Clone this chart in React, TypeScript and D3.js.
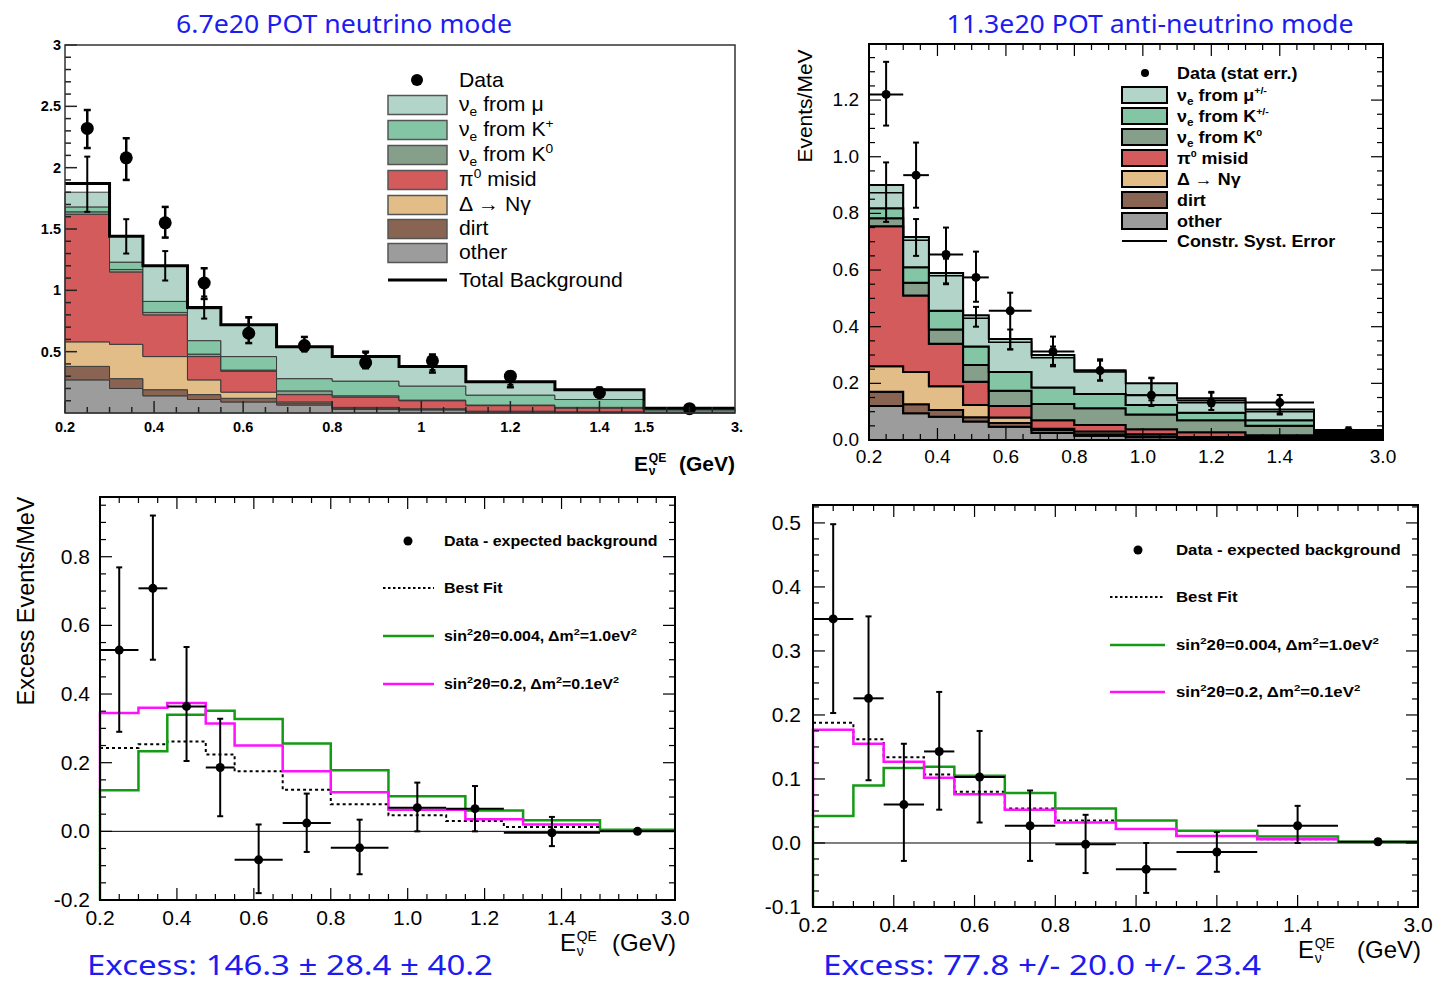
import React from "react";
import * as d3 from "d3";

// ---------------- shared binning ----------------
const EDGES = [0.2, 0.3, 0.375, 0.475, 0.55, 0.675, 0.8, 0.95, 1.1, 1.3, 1.5, 3.0];
const CENTERS = [0.25, 0.3375, 0.425, 0.5125, 0.6125, 0.7375, 0.875, 1.025, 1.2, 1.4, 2.25];
const X_BREAKS = [0.2, 1.5, 3.0];

const LAYER_KEYS = ["other", "dirt", "delta", "pi0", "k0", "kplus", "mu"];
const LAYER_COLORS: Record<string, string> = {
  mu: "#b3d4c8",
  kplus: "#84c5a5",
  k0: "#859f8b",
  pi0: "#d45b5b",
  delta: "#e2bd88",
  dirt: "#8a6452",
  other: "#9c9c9c",
};

// ---------------- top-left: neutrino mode ----------------
const nuOther = [0.27, 0.2, 0.14, 0.11, 0.09, 0.065, 0.03, 0.025, 0.01, 0.005, 0.002];
const nuDirt = [0.11, 0.08, 0.05, 0.04, 0.03, 0.015, 0.01, 0.005, 0.003, 0.003, 0.001];
const nuDelta = [0.2, 0.28, 0.27, 0.12, 0.05, 0.01, 0.006, 0.005, 0.002, 0.002, 0.001];
const nuPi0 = [1.04, 0.59, 0.34, 0.19, 0.17, 0.06, 0.084, 0.065, 0.045, 0.03, 0.002];
const nuK0 = [0.02, 0.02, 0.02, 0.02, 0.01, 0.03, 0.01, 0.005, 0.005, 0.006, 0.002];
const nuKplus = [0.04, 0.06, 0.09, 0.11, 0.11, 0.1, 0.12, 0.115, 0.081, 0.064, 0.017];
const nuMu = [0.12, 0.21, 0.29, 0.26, 0.26, 0.26, 0.2, 0.16, 0.109, 0.08, 0.013];
const nuTotal = [1.87, 1.44, 1.2, 0.86, 0.72, 0.54, 0.46, 0.38, 0.255, 0.19, 0.038];
const nuSysLo = [1.64, 1.3, 1.08, 0.77, 0.66, 0.5, 0.43, 0.35, 0.23, 0.17, 0.03];
const nuSysHi = [2.09, 1.58, 1.32, 0.95, 0.78, 0.58, 0.49, 0.41, 0.28, 0.21, 0.045];
const nuData = [2.32, 2.08, 1.55, 1.06, 0.65, 0.55, 0.41, 0.425, 0.3, 0.165, 0.035];
const nuDataLo = [2.16, 1.9, 1.43, 0.93, 0.57, 0.51, 0.365, 0.33, 0.21, 0.145, 0.025];
const nuDataHi = [2.47, 2.24, 1.68, 1.18, 0.78, 0.62, 0.5, 0.477, 0.335, 0.19, 0.045];

// ---------------- top-right: anti-neutrino mode ----------------
const anOther = [0.12, 0.094, 0.082, 0.065, 0.047, 0.025, 0.015, 0.01, 0.005, 0.004, 0.005];
const anDirt = [0.05, 0.032, 0.024, 0.015, 0.013, 0.01, 0.005, 0.002, 0.002, 0.002, 0.005];
const anDelta = [0.09, 0.114, 0.084, 0.044, 0.019, 0.005, 0.01, 0.008, 0.004, 0.004, 0.005];
const anPi0 = [0.495, 0.27, 0.15, 0.082, 0.041, 0.03, 0.023, 0.018, 0.016, 0.007, 0.005];
const anK0 = [0.028, 0.045, 0.05, 0.059, 0.054, 0.057, 0.059, 0.052, 0.043, 0.033, 0.005];
const anKplus = [0.035, 0.055, 0.066, 0.065, 0.066, 0.058, 0.05, 0.034, 0.026, 0.02, 0.005];
const anMu = [0.082, 0.107, 0.134, 0.11, 0.117, 0.115, 0.083, 0.076, 0.051, 0.038, 0.005];
const anSysLine = [0.873, 0.705, 0.58, 0.43, 0.345, 0.29, 0.24, 0.159, 0.14, 0.1, 0.03];
const anSysLo = [0.77, 0.65, 0.55, 0.4, 0.32, 0.26, 0.21, 0.14, 0.12, 0.09, 0.025];
const anSysHi = [0.98, 0.78, 0.64, 0.47, 0.39, 0.33, 0.28, 0.22, 0.17, 0.13, 0.045];
const anData = [1.22, 0.935, 0.655, 0.574, 0.456, 0.312, 0.245, 0.158, 0.132, 0.132, 0.03];
const anDataLo = [1.11, 0.82, 0.553, 0.488, 0.32, 0.265, 0.21, 0.12, 0.106, 0.094, 0.02];
const anDataHi = [1.335, 1.05, 0.75, 0.665, 0.52, 0.365, 0.285, 0.218, 0.167, 0.159, 0.04];

// ---------------- bottom-left: neutrino excess ----------------
const BL_DATA_EDGES = [0.2, 0.3, 0.375, 0.475, 0.55, 0.675, 0.8, 0.95, 1.1, 1.25, 1.5, 3.0];
const BL_OSC_EDGES = [0.2, 0.3, 0.375, 0.475, 0.55, 0.675, 0.8, 0.95, 1.15, 1.3, 1.5, 3.0];
const BL_CENTERS = [0.25, 0.3375, 0.425, 0.5125, 0.6125, 0.7375, 0.875, 1.025, 1.175, 1.375, 2.25];
const blExcess = [0.528, 0.708, 0.364, 0.186, -0.083, 0.024, -0.048, 0.069, 0.066, -0.004, 0.0];
const blExcessLo = [0.29, 0.5, 0.205, 0.044, -0.18, -0.06, -0.125, 0.0, 0.0, -0.043, -0.005];
const blExcessHi = [0.769, 0.92, 0.537, 0.328, 0.02, 0.11, 0.034, 0.142, 0.132, 0.042, 0.005];
const blBestFit = [0.243, 0.254, 0.262, 0.224, 0.175, 0.121, 0.079, 0.047, 0.03, 0.013];
const blGreen = [0.12, 0.233, 0.34, 0.351, 0.327, 0.256, 0.178, 0.102, 0.061, 0.032, 0.005];
const blMagenta = [0.345, 0.36, 0.374, 0.314, 0.25, 0.175, 0.114, 0.063, 0.035, 0.02];

// ---------------- bottom-right: anti-neutrino excess ----------------
const brExcess = [0.35, 0.226, 0.06, 0.143, 0.103, 0.027, -0.002, -0.041, -0.014, 0.027, 0.002];
const brExcessLo = [0.203, 0.098, -0.028, 0.052, 0.032, -0.028, -0.047, -0.078, -0.045, 0.0, -0.002];
const brExcessHi = [0.498, 0.354, 0.155, 0.236, 0.175, 0.082, 0.044, 0.0, 0.017, 0.058, 0.006];
const brBestFit = [0.188, 0.162, 0.134, 0.107, 0.08, 0.054, 0.035, 0.022, 0.011, 0.006];
const brGreen = [0.042, 0.09, 0.117, 0.119, 0.105, 0.078, 0.054, 0.035, 0.019, 0.01, 0.002];
const brMagenta = [0.177, 0.155, 0.127, 0.102, 0.076, 0.052, 0.032, 0.022, 0.011, 0.006];

// ---------------- ticks ----------------
const X_MAJOR = [0.2, 0.4, 0.6, 0.8, 1.0, 1.2, 1.4];
const X_MINOR = [
  0.25, 0.3, 0.35, 0.45, 0.5, 0.55, 0.65, 0.7, 0.75, 0.85, 0.9, 0.95, 1.05, 1.1, 1.15, 1.25, 1.3,
  1.35, 1.45, 1.5, 1.875, 2.25, 2.625,
];
const TL_X_LABELS = ["0.2", "0.4", "0.6", "0.8", "1", "1.2", "1.4", "1.5", "3."];
const TL_X_LABEL_VALUES = [0.2, 0.4, 0.6, 0.8, 1.0, 1.2, 1.4, 1.5, 3.0];
const X_LABELS = ["0.2", "0.4", "0.6", "0.8", "1.0", "1.2", "1.4", "3.0"];
const X_LABEL_VALUES = [0.2, 0.4, 0.6, 0.8, 1.0, 1.2, 1.4, 3.0];
const TL_Y_LABELS = ["0.5", "1", "1.5", "2", "2.5", "3"];
const TL_Y_VALUES = [0.5, 1, 1.5, 2, 2.5, 3];
const TR_Y_LABELS = ["0.0", "0.2", "0.4", "0.6", "0.8", "1.0", "1.2"];
const TR_Y_VALUES = [0, 0.2, 0.4, 0.6, 0.8, 1.0, 1.2];
const BL_Y_LABELS = ["-0.2", "0.0", "0.2", "0.4", "0.6", "0.8"];
const BL_Y_VALUES = [-0.2, 0, 0.2, 0.4, 0.6, 0.8];
const BR_Y_LABELS = ["-0.1", "0.0", "0.1", "0.2", "0.3", "0.4", "0.5"];
const BR_Y_VALUES = [-0.1, 0, 0.1, 0.2, 0.3, 0.4, 0.5];

const FONT = "'Liberation Sans', Arial, Helvetica, sans-serif";
const BLUE_FONT = "'Noto Sans', 'Open Sans', sans-serif";
const BLUE = "#1c1cf2";
const GREEN = "#149a14";
const MAGENTA = "#ff10ff";

type Scale = d3.ScaleLinear<number, number>;

function stepPath(x: Scale, y: Scale, edges: number[], vals: number[], startFrom?: number) {
  const pts: [number, number][] = [];
  if (startFrom !== undefined) pts.push([edges[0], startFrom]);
  vals.forEach((v, i) => pts.push([edges[i], v]));
  pts.push([edges[vals.length], vals[vals.length - 1]]);
  return (
    d3
      .line<[number, number]>()
      .x((d) => x(d[0]))
      .y((d) => y(d[1]))
      .curve(d3.curveStepAfter)(pts) || ""
  );
}

function stepArea(x: Scale, y: Scale, edges: number[], lo: number[], hi: number[]) {
  const pts = lo.map((l, i) => ({ e: edges[i], l, h: hi[i] }));
  pts.push({ e: edges[lo.length], l: lo[lo.length - 1], h: hi[hi.length - 1] });
  return (
    d3
      .area<{ e: number; l: number; h: number }>()
      .x((d) => x(d.e))
      .y0((d) => y(d.l))
      .y1((d) => y(d.h))
      .curve(d3.curveStepAfter)(pts) || ""
  );
}

function Stack({
  x,
  y,
  layers,
  stroke,
  sw,
}: {
  x: Scale;
  y: Scale;
  layers: Record<string, number[]>;
  stroke: string;
  sw: number;
}) {
  const rows = EDGES.slice(0, -1).map((_, i) => {
    const r: Record<string, number> = {};
    LAYER_KEYS.forEach((k) => (r[k] = layers[k][i]));
    return r;
  });
  const series = d3.stack<Record<string, number>>().keys(LAYER_KEYS)(rows);
  return (
    <g>
      {series.map((s) => (
        <path
          key={s.key}
          d={stepArea(
            x,
            y,
            EDGES,
            s.map((d) => d[0]),
            s.map((d) => d[1])
          )}
          fill={LAYER_COLORS[s.key]}
          stroke={stroke}
          strokeWidth={sw}
          strokeLinejoin="miter"
        />
      ))}
    </g>
  );
}

function Ticks({
  x,
  y,
  xMajor,
  xMinor,
  yMajor,
  yMinor,
  sides,
  maj,
  min,
  color,
  sw,
}: {
  x: Scale;
  y: Scale;
  xMajor: number[];
  xMinor: number[];
  yMajor: number[];
  yMinor: number[];
  sides: { left: boolean; right: boolean; top: boolean; bottom: boolean };
  maj: number;
  min: number;
  color: string;
  sw: number;
}) {
  const xr = x.range();
  const x0 = xr[0];
  const x1 = xr[xr.length - 1];
  const [yb, yt] = y.range();
  const out: JSX.Element[] = [];
  const add = (k: string, a: number, b: number, c: number, d: number) =>
    out.push(<line key={k} x1={a} y1={b} x2={c} y2={d} stroke={color} strokeWidth={sw} />);
  const xs: [number, number][] = [
    ...xMajor.map((v) => [v, maj] as [number, number]),
    ...xMinor.map((v) => [v, min] as [number, number]),
  ];
  const ys: [number, number][] = [
    ...yMajor.map((v) => [v, maj] as [number, number]),
    ...yMinor.map((v) => [v, min] as [number, number]),
  ];
  xs.forEach(([v, l], i) => {
    const px = x(v);
    if (sides.bottom) add("xb" + i, px, yb, px, yb - l);
    if (sides.top) add("xt" + i, px, yt, px, yt + l);
  });
  ys.forEach(([v, l], i) => {
    const py = y(v);
    if (py < yt - 0.5 || py > yb + 0.5) return;
    if (sides.left) add("yl" + i, x0, py, x0 + l, py);
    if (sides.right) add("yr" + i, x1, py, x1 - l, py);
  });
  return <g>{out}</g>;
}

function range(a: number, b: number, step: number, skip: number[]) {
  const out: number[] = [];
  for (let v = a; v <= b + 1e-9; v += step) {
    const r = Math.round(v * 1000) / 1000;
    if (!skip.some((s) => Math.abs(s - r) < 1e-6)) out.push(r);
  }
  return out;
}

function Points({
  x,
  y,
  cx,
  v,
  lo,
  hi,
  edges,
  r,
  sw,
  cap,
}: {
  x: Scale;
  y: Scale;
  cx: number[];
  v: number[];
  lo: number[];
  hi: number[];
  edges?: number[];
  r: number;
  sw: number;
  cap: number;
}) {
  return (
    <g>
      {v.map((val, i) => {
        const px = x(cx[i]);
        const py = y(val);
        const yl = y(lo[i]);
        const yh = y(hi[i]);
        return (
          <g key={i}>
            <line x1={px} y1={yl} x2={px} y2={yh} stroke="#000" strokeWidth={sw} />
            <line x1={px - cap} y1={yl} x2={px + cap} y2={yl} stroke="#000" strokeWidth={sw} />
            <line x1={px - cap} y1={yh} x2={px + cap} y2={yh} stroke="#000" strokeWidth={sw} />
            {edges && (
              <line x1={x(edges[i])} y1={py} x2={x(edges[i + 1])} y2={py} stroke="#000" strokeWidth={sw} />
            )}
            <circle cx={px} cy={py} r={r} fill="#000" />
          </g>
        );
      })}
    </g>
  );
}

function SysBars({ x, y, cx, lo, hi, sw, cap }: { x: Scale; y: Scale; cx: number[]; lo: number[]; hi: number[]; sw: number; cap: number }) {
  return (
    <g>
      {lo.map((l, i) => {
        const px = x(cx[i]);
        return (
          <g key={i}>
            <line x1={px} y1={y(l)} x2={px} y2={y(hi[i])} stroke="#000" strokeWidth={sw} />
            <line x1={px - cap} y1={y(l)} x2={px + cap} y2={y(l)} stroke="#000" strokeWidth={sw} />
            <line x1={px - cap} y1={y(hi[i])} x2={px + cap} y2={y(hi[i])} stroke="#000" strokeWidth={sw} />
          </g>
        );
      })}
    </g>
  );
}

// horizontally stretched text (the reference glyphs are wider than Liberation Sans)
function SText({
  x,
  y,
  sx,
  size,
  bold,
  children,
}: {
  x: number;
  y: number;
  sx: number;
  size: number;
  bold?: boolean;
  children: React.ReactNode;
}) {
  return (
    <text
      transform={`translate(${x},${y}) scale(${sx},1)`}
      fontFamily={FONT}
      fontWeight={bold ? "bold" : "normal"}
      fontSize={size}
    >
      {children}
    </text>
  );
}

function SinLabel({ x, y, s2, dm, sx }: { x: number; y: number; s2: string; dm: string; sx: number }) {
  return (
    <SText x={x} y={y} sx={sx} size={14} bold>
      sin
      <tspan dy={-6} fontSize={9.5}>
        2
      </tspan>
      <tspan dy={6}>{"2θ=" + s2 + ", Δm"}</tspan>
      <tspan dy={-6} fontSize={9.5}>
        2
      </tspan>
      <tspan dy={6}>{"=" + dm + "eV"}</tspan>
      <tspan dy={-6} fontSize={9.5}>
        2
      </tspan>
    </SText>
  );
}

function EnuTitle({
  xE,
  xEnd,
  y,
  size,
  bold,
}: {
  xE: number;
  xEnd: number;
  y: number;
  size: number;
  bold: boolean;
}) {
  const fw = bold ? "bold" : "normal";
  const sub = size * 0.58;
  const xs = xE + size * 0.7;
  return (
    <g fontFamily={FONT} fontWeight={fw}>
      <text x={xE} y={y} fontSize={size}>
        E
      </text>
      <text x={xs} y={y - size * 0.42} fontSize={sub}>
        QE
      </text>
      <text x={xs} y={y + size * 0.2} fontSize={sub}>
        ν
      </text>
      <text x={xEnd} y={y} fontSize={size} textAnchor="end">
        (GeV)
      </text>
    </g>
  );
}

function ExcessLegend({
  x0,
  x1,
  dotX,
  yRow,
  textX,
  sx,
}: {
  x0: number;
  x1: number;
  dotX: number;
  yRow: number[];
  textX: number;
  sx: number;
}) {
  return (
    <g>
      <circle cx={dotX} cy={yRow[0]} r={4.5} fill="#000" />
      <SText x={textX} y={yRow[0] + 5} sx={sx} size={14} bold>
        Data - expected background
      </SText>
      <line x1={x0} y1={yRow[1]} x2={x1} y2={yRow[1]} stroke="#000" strokeWidth={2} strokeDasharray="2.5 2.5" />
      <SText x={textX} y={yRow[1] + 5} sx={sx} size={14} bold>
        Best Fit
      </SText>
      <line x1={x0} y1={yRow[2]} x2={x1} y2={yRow[2]} stroke={GREEN} strokeWidth={2.5} />
      <SinLabel x={textX} y={yRow[2] + 5} s2="0.004" dm="1.0" sx={sx} />
      <line x1={x0} y1={yRow[3]} x2={x1} y2={yRow[3]} stroke={MAGENTA} strokeWidth={2.5} />
      <SinLabel x={textX} y={yRow[3] + 5} s2="0.2" dm="0.1" sx={sx} />
    </g>
  );
}

export default function App() {
  // scales
  const xTL = d3.scaleLinear().domain(X_BREAKS).range([65, 644, 735]);
  const yTL = d3.scaleLinear().domain([0, 3]).range([413, 45]);
  const xTR = d3.scaleLinear().domain(X_BREAKS).range([869, 1314, 1383]);
  const yTR = d3.scaleLinear().domain([0, 1.398]).range([440, 44]);
  const xBL = d3.scaleLinear().domain(X_BREAKS).range([100, 600, 675]);
  const yBL = d3.scaleLinear().domain([-0.2, 0.974]).range([900, 497]);
  const xBR = d3.scaleLinear().domain(X_BREAKS).range([813, 1338, 1418]);
  const yBR = d3.scaleLinear().domain([-0.1, 0.528]).range([907, 505]);

  const nuLayers = { other: nuOther, dirt: nuDirt, delta: nuDelta, pi0: nuPi0, k0: nuK0, kplus: nuKplus, mu: nuMu };
  const anLayers = { other: anOther, dirt: anDirt, delta: anDelta, pi0: anPi0, k0: anK0, kplus: anKplus, mu: anMu };

  const tlLegend = [
    { key: "mu", label: <>ν<tspan dy={5} fontSize={13}>e</tspan><tspan dy={-5}> from μ</tspan></> },
    { key: "kplus", label: <>ν<tspan dy={5} fontSize={13}>e</tspan><tspan dy={-5}> from K</tspan><tspan dy={-8} fontSize={13}>+</tspan></> },
    { key: "k0", label: <>ν<tspan dy={5} fontSize={13}>e</tspan><tspan dy={-5}> from K</tspan><tspan dy={-8} fontSize={13}>0</tspan></> },
    { key: "pi0", label: <>π<tspan dy={-8} fontSize={13}>0</tspan><tspan dy={8}> misid</tspan></> },
    { key: "delta", label: <>Δ → Nγ</> },
    { key: "dirt", label: <>dirt</> },
    { key: "other", label: <>other</> },
  ];
  const tlRows = [105, 130, 155, 180, 205, 229, 253];

  const trLegend = [
    { key: "mu", label: <>ν<tspan dy={4} fontSize={10.5}>e</tspan><tspan dy={-4}> from μ</tspan><tspan dy={-7} fontSize={9.5}>+/-</tspan></> },
    { key: "kplus", label: <>ν<tspan dy={4} fontSize={10.5}>e</tspan><tspan dy={-4}> from K</tspan><tspan dy={-7} fontSize={9.5}>+/-</tspan></> },
    { key: "k0", label: <>ν<tspan dy={4} fontSize={10.5}>e</tspan><tspan dy={-4}> from K</tspan><tspan dy={-7} fontSize={9.5}>0</tspan></> },
    { key: "pi0", label: <>π<tspan dy={-7} fontSize={9.5}>0</tspan><tspan dy={7}> misid</tspan></> },
    { key: "delta", label: <>Δ → Nγ</> },
    { key: "dirt", label: <>dirt</> },
    { key: "other", label: <>other</> },
  ];
  const trRows = [95, 116, 137, 158, 179, 200, 221];

  const allSides = { left: true, right: true, top: true, bottom: true };

  return (
    <svg
      width={1438}
      height={982}
      viewBox="0 0 1438 982"
      style={{ position: "absolute", left: 0, top: 0, background: "#fff" }}
    >
      <rect x={0} y={0} width={1438} height={982} fill="#fff" />

      {/* ---------- titles ---------- */}
      <text x={344} y={33} textAnchor="middle" fontFamily={BLUE_FONT} fontSize={25} fill={BLUE} textLength={336} lengthAdjust="spacingAndGlyphs">
        6.7e20 POT neutrino mode
      </text>
      <text x={1150} y={33} textAnchor="middle" fontFamily={BLUE_FONT} fontSize={25} fill={BLUE} textLength={407} lengthAdjust="spacingAndGlyphs">
        11.3e20 POT anti-neutrino mode
      </text>

      {/* ---------- top-left panel ---------- */}
      <g>
        <Stack x={xTL} y={yTL} layers={nuLayers} stroke="#3a3a3a" sw={1} />
        <path d={stepPath(xTL, yTL, EDGES, nuTotal)} fill="none" stroke="#000" strokeWidth={3} />
        <SysBars x={xTL} y={yTL} cx={CENTERS} lo={nuSysLo} hi={nuSysHi} sw={2} cap={3} />
        <Points x={xTL} y={yTL} cx={CENTERS} v={nuData} lo={nuDataLo} hi={nuDataHi} r={6.5} sw={2.5} cap={3.5} />
        <Ticks
          x={xTL}
          y={yTL}
          xMajor={[...X_MAJOR, 1.5]}
          xMinor={X_MINOR.filter((v) => v !== 1.5)}
          yMajor={TL_Y_VALUES}
          yMinor={range(0.1, 3, 0.1, TL_Y_VALUES)}
          sides={{ left: true, right: false, top: false, bottom: true }}
          maj={12}
          min={6}
          color="#222"
          sw={1.5}
        />
        <rect x={65} y={45} width={670} height={368} fill="none" stroke="#333" strokeWidth={1.5} />
        {TL_Y_LABELS.map((t, i) => (
          <text key={t} x={61} y={yTL(TL_Y_VALUES[i]) + 5} textAnchor="end" fontFamily={FONT} fontWeight="bold" fontSize={14.5}>
            {t}
          </text>
        ))}
        {TL_X_LABELS.map((t, i) => (
          <text key={t} x={xTL(TL_X_LABEL_VALUES[i]) + (i === TL_X_LABELS.length - 1 ? 2 : 0)} y={432} textAnchor="middle" fontFamily={FONT} fontWeight="bold" fontSize={14.5}>
            {t}
          </text>
        ))}
        <EnuTitle xE={634} xEnd={735} y={471} size={21} bold={true} />

        {/* legend */}
        <circle cx={417} cy={80} r={6} fill="#000" />
        <SText x={459} y={87} sx={1.06} size={20}>
          Data
        </SText>
        {tlLegend.map((l, i) => (
          <g key={l.key}>
            <rect x={388} y={tlRows[i] - 9.5} width={59} height={19} fill={LAYER_COLORS[l.key]} stroke="#555" strokeWidth={1.5} />
            <SText x={459} y={tlRows[i] + 6} sx={1.06} size={20}>
              {l.label}
            </SText>
          </g>
        ))}
        <line x1={388} y1={280} x2={447} y2={280} stroke="#000" strokeWidth={3} />
        <SText x={459} y={287} sx={1.06} size={20}>
          Total Background
        </SText>
      </g>

      {/* ---------- top-right panel ---------- */}
      <g>
        <Stack x={xTR} y={yTR} layers={anLayers} stroke="#000" sw={2} />
        <path d={stepPath(xTR, yTR, EDGES, anSysLine)} fill="none" stroke="#000" strokeWidth={1.5} />
        <SysBars x={xTR} y={yTR} cx={CENTERS} lo={anSysLo} hi={anSysHi} sw={2} cap={3} />
        <Points x={xTR} y={yTR} cx={CENTERS} v={anData} lo={anDataLo} hi={anDataHi} edges={EDGES} r={4.5} sw={2} cap={3} />
        <Ticks
          x={xTR}
          y={yTR}
          xMajor={X_MAJOR}
          xMinor={X_MINOR}
          yMajor={TR_Y_VALUES}
          yMinor={range(0.05, 1.35, 0.05, TR_Y_VALUES)}
          sides={allSides}
          maj={12}
          min={6}
          color="#000"
          sw={1.2}
        />
        <rect x={869} y={44} width={514} height={396} fill="none" stroke="#000" strokeWidth={2} />
        {TR_Y_LABELS.map((t, i) => (
          <text key={t} x={859} y={yTR(TR_Y_VALUES[i]) + 6} textAnchor="end" fontFamily={FONT} fontSize={19}>
            {t}
          </text>
        ))}
        {X_LABELS.map((t, i) => (
          <text key={t} x={xTR(X_LABEL_VALUES[i])} y={463} textAnchor="middle" fontFamily={FONT} fontSize={19}>
            {t}
          </text>
        ))}
        <text transform="translate(812,106) rotate(-90)" textAnchor="middle" fontFamily={FONT} fontSize={21}>
          Events/MeV
        </text>

        {/* legend */}
        <circle cx={1145} cy={73} r={4} fill="#000" />
        <SText x={1177} y={79} sx={1.12} size={16} bold>
          Data (stat err.)
        </SText>
        {trLegend.map((l, i) => (
          <g key={l.key}>
            <rect x={1122} y={trRows[i] - 8} width={45} height={16} fill={LAYER_COLORS[l.key]} stroke="#000" strokeWidth={2} />
            <SText x={1177} y={trRows[i] + 5.5} sx={1.12} size={16} bold>
              {l.label}
            </SText>
          </g>
        ))}
        <line x1={1122} y1={241} x2={1167} y2={241} stroke="#000" strokeWidth={2} />
        <SText x={1177} y={246.5} sx={1.12} size={16} bold>
          Constr. Syst. Error
        </SText>
      </g>

      {/* ---------- bottom-left panel ---------- */}
      <g>
        <line x1={100} y1={yBL(0)} x2={675} y2={yBL(0)} stroke="#000" strokeWidth={1} />
        <path d={stepPath(xBL, yBL, BL_DATA_EDGES, blBestFit)} fill="none" stroke="#000" strokeWidth={2} strokeDasharray="3 3" />
        <path d={stepPath(xBL, yBL, BL_OSC_EDGES, blGreen, -0.2)} fill="none" stroke={GREEN} strokeWidth={2.5} />
        <path d={stepPath(xBL, yBL, BL_OSC_EDGES, blMagenta, blGreen[0])} fill="none" stroke={MAGENTA} strokeWidth={2.5} />
        <Points x={xBL} y={yBL} cx={BL_CENTERS} v={blExcess} lo={blExcessLo} hi={blExcessHi} edges={BL_DATA_EDGES} r={4.5} sw={2} cap={3} />
        <Ticks
          x={xBL}
          y={yBL}
          xMajor={X_MAJOR}
          xMinor={X_MINOR}
          yMajor={BL_Y_VALUES}
          yMinor={range(-0.15, 0.95, 0.05, BL_Y_VALUES)}
          sides={allSides}
          maj={12}
          min={6}
          color="#000"
          sw={1.2}
        />
        <rect x={100} y={497} width={575} height={403} fill="none" stroke="#000" strokeWidth={2} />
        {BL_Y_LABELS.map((t, i) => (
          <text key={t} x={90} y={yBL(BL_Y_VALUES[i]) + 7} textAnchor="end" fontFamily={FONT} fontSize={21}>
            {t}
          </text>
        ))}
        {X_LABELS.map((t, i) => (
          <text key={t} x={xBL(X_LABEL_VALUES[i])} y={925} textAnchor="middle" fontFamily={FONT} fontSize={21}>
            {t}
          </text>
        ))}
        <text transform="translate(34,601) rotate(-90)" textAnchor="middle" fontFamily={FONT} fontSize={23.5}>
          Excess Events/MeV
        </text>
        <EnuTitle xE={560} xEnd={676} y={951} size={24} bold={false} />
        <ExcessLegend x0={383} x1={434} dotX={408} yRow={[541, 588, 636, 684]} textX={444} sx={1.14} />
        <text x={87} y={975} fontFamily={BLUE_FONT} fontSize={28} fill={BLUE} textLength={406} lengthAdjust="spacingAndGlyphs">
          Excess: 146.3 ± 28.4 ± 40.2
        </text>
      </g>

      {/* ---------- bottom-right panel ---------- */}
      <g>
        <line x1={813} y1={yBR(0)} x2={1418} y2={yBR(0)} stroke="#000" strokeWidth={1} />
        <path d={stepPath(xBR, yBR, EDGES, brBestFit)} fill="none" stroke="#000" strokeWidth={2} strokeDasharray="3 3" />
        <path d={stepPath(xBR, yBR, EDGES, brGreen, -0.1)} fill="none" stroke={GREEN} strokeWidth={2.5} />
        <path d={stepPath(xBR, yBR, EDGES, brMagenta, brGreen[0])} fill="none" stroke={MAGENTA} strokeWidth={2.5} />
        <Points x={xBR} y={yBR} cx={CENTERS} v={brExcess} lo={brExcessLo} hi={brExcessHi} edges={EDGES} r={4.5} sw={2} cap={3} />
        <Ticks
          x={xBR}
          y={yBR}
          xMajor={X_MAJOR}
          xMinor={X_MINOR}
          yMajor={BR_Y_VALUES}
          yMinor={range(-0.075, 0.525, 0.025, BR_Y_VALUES)}
          sides={allSides}
          maj={12}
          min={6}
          color="#000"
          sw={1.2}
        />
        <rect x={813} y={505} width={605} height={402} fill="none" stroke="#000" strokeWidth={2} />
        {BR_Y_LABELS.map((t, i) => (
          <text key={t} x={801} y={yBR(BR_Y_VALUES[i]) + 7} textAnchor="end" fontFamily={FONT} fontSize={21}>
            {t}
          </text>
        ))}
        {X_LABELS.map((t, i) => (
          <text key={t} x={xBR(X_LABEL_VALUES[i])} y={932} textAnchor="middle" fontFamily={FONT} fontSize={21}>
            {t}
          </text>
        ))}
        <EnuTitle xE={1298} xEnd={1421} y={958} size={24} bold={false} />
        <ExcessLegend x0={1110} x1={1165} dotX={1138} yRow={[550, 597, 645, 692]} textX={1176} sx={1.2} />
        <text x={823} y={975} fontFamily={BLUE_FONT} fontSize={28} fill={BLUE} textLength={438} lengthAdjust="spacingAndGlyphs">
          Excess: 77.8 +/- 20.0 +/- 23.4
        </text>
      </g>
    </svg>
  );
}
